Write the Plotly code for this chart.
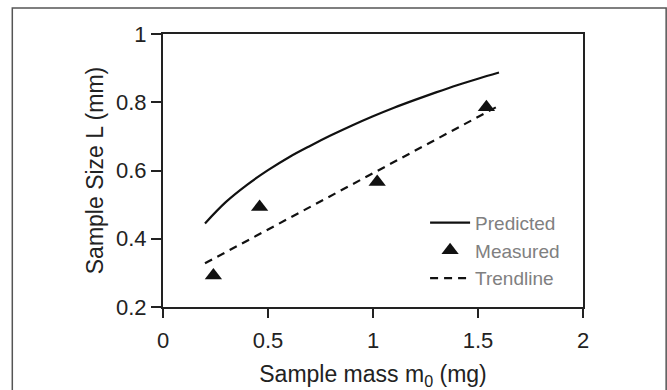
import plotly.graph_objects as go

# Predicted curve
pred_x = [0.2, 0.3, 0.4, 0.5, 0.6, 0.7, 0.8, 0.9, 1.0, 1.1, 1.2, 1.3, 1.4, 1.5, 1.6]
pred_y = [0.445, 0.508, 0.558, 0.601, 0.639, 0.672, 0.703, 0.732, 0.759, 0.784, 0.807, 0.829, 0.85, 0.869, 0.887]

# Measured points
meas_x = [0.24, 0.46, 1.02, 1.54]
meas_y = [0.292, 0.493, 0.566, 0.785]

# Trendline
trend_x = [0.2, 1.6]
trend_y = [0.328, 0.79]

FONT = "Liberation Sans, Arial, sans-serif"
AX = "#222222"

fig = go.Figure()
fig.add_trace(go.Scatter(x=pred_x, y=pred_y, mode="lines", name="Predicted",
                         line=dict(color="#111111", width=2.2, shape="spline", smoothing=1)))
fig.add_trace(go.Scatter(x=meas_x, y=meas_y, mode="markers", name="Measured",
                         marker=dict(symbol="triangle-up", size=15, color="#111111")))
fig.add_trace(go.Scatter(x=trend_x, y=trend_y, mode="lines", name="Trendline",
                         line=dict(color="#111111", width=2.2, dash="8px,6px")))

fig.update_layout(
    width=667, height=390,
    margin=dict(l=163, r=84, t=34, b=83),
    paper_bgcolor="white", plot_bgcolor="white",
    font=dict(family=FONT, size=22, color="#222222"),
    showlegend=True,
    legend=dict(x=0.624, y=0.378, xanchor="left", yanchor="top",
                bgcolor="rgba(0,0,0,0)", font=dict(size=19, color="#808080"),
                tracegroupgap=0, itemwidth=40),
    shapes=[dict(type="rect", xref="paper", yref="paper",
                 x0=-0.3588, x1=1.198, y0=-0.4, y1=1.0953,
                 line=dict(color="#555555", width=1.5), layer="below")],
)
fig.update_xaxes(range=[0, 2], dtick=0.5, tick0=0, showgrid=False, zeroline=False,
                 showline=True, linecolor=AX, linewidth=2, mirror=True,
                 ticks="outside", ticklen=9, tickwidth=2, tickcolor=AX,
                 ticklabelstandoff=4, automargin=False,
                 title=dict(text="Sample mass m<sub>0</sub> (mg)", font=dict(size=23), standoff=14))
fig.update_yaxes(range=[0.2, 1], dtick=0.2, tick0=0.2, showgrid=False, zeroline=False,
                 showline=True, linecolor=AX, linewidth=2, mirror=True,
                 ticks="outside", ticklen=10, tickwidth=2, tickcolor=AX,
                 automargin=False,
                 title=dict(text="Sample Size L (mm)", font=dict(size=23), standoff=6))

fig.write_html("out.html")
